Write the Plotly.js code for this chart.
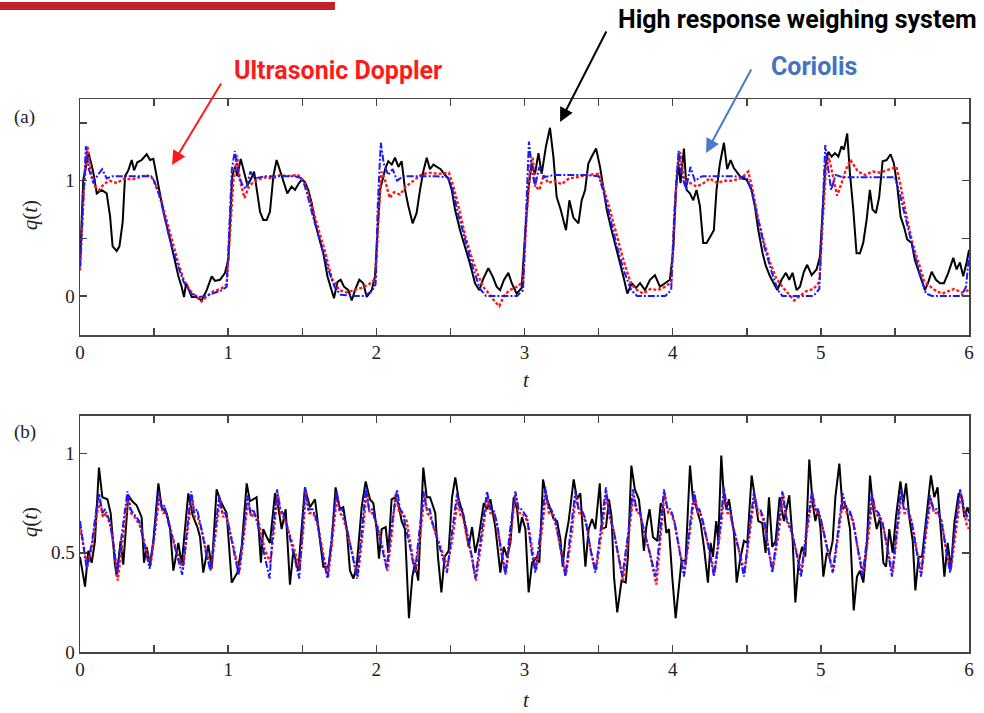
<!DOCTYPE html>
<html><head><meta charset="utf-8">
<script src="https://cdn.plot.ly/plotly-3.0.1.min.js"></script>
<style>html,body{margin:0;padding:0;background:#fff}#plot{width:984px;height:713px}</style>
</head><body><div id="plot"></div>
<script>
// ---------- Panel (a): q(t) ----------
const tBlackA=[0,.022,.04,.056,.072,.09,.113,.146,.18,.203,.22,.248,.266,.288,.304,.326,.349,.365,.387,.416,.45,.473,.495,.518,.54,.563,.597,.63,.664,.686,.702,.716,.731,.754,.787,.821,.855,.889,.911,.945,.979,1.002,1.013,1.028,1.046,1.062,1.085,1.107,1.13,1.152,1.175,1.197,1.215,1.237,1.26,1.282,1.305,1.327,1.35,1.372,1.399,1.428,1.451,1.473,1.496,1.518,1.541,1.563,1.586,1.608,1.642,1.67,1.692,1.714,1.737,1.759,1.782,1.811,1.834,1.856,1.885,1.912,1.935,1.969,1.991,2.007,2.025,2.059,2.081,2.104,2.126,2.149,2.171,2.194,2.216,2.245,2.272,2.295,2.317,2.34,2.362,2.385,2.407,2.434,2.464,2.486,2.509,2.531,2.565,2.599,2.632,2.666,2.695,2.722,2.756,2.785,2.812,2.835,2.862,2.891,2.914,2.947,2.981,3.003,3.026,3.048,3.071,3.094,3.116,3.145,3.172,3.195,3.217,3.244,3.28,3.303,3.33,3.364,3.386,3.409,3.431,3.454,3.483,3.51,3.532,3.555,3.582,3.611,3.64,3.667,3.694,3.724,3.753,3.78,3.813,3.847,3.88,3.914,3.948,3.981,4.004,4.022,4.038,4.053,4.076,4.094,4.116,4.139,4.161,4.184,4.206,4.229,4.256,4.278,4.296,4.319,4.346,4.368,4.391,4.413,4.436,4.465,4.499,4.533,4.555,4.578,4.607,4.629,4.657,4.684,4.706,4.735,4.764,4.787,4.809,4.836,4.859,4.886,4.908,4.938,4.971,4.994,5.012,5.03,5.05,5.073,5.095,5.118,5.14,5.156,5.178,5.196,5.219,5.241,5.264,5.286,5.309,5.331,5.349,5.372,5.394,5.417,5.444,5.471,5.493,5.516,5.538,5.561,5.583,5.613,5.635,5.669,5.703,5.725,5.748,5.777,5.804,5.831,5.86,5.894,5.916,5.939,5.961,5.984,6.0];
const qBlackA=[.28,1.01,1.12,1.25,1.17,1.07,.89,.92,.89,.69,.43,.39,.43,.64,1.04,1.09,1.18,1.09,1.16,1.18,1.23,1.18,1.19,1.04,.87,.73,.55,.35,.17,.08,-.01,.11,.06,-.01,-.01,-.04,.05,.17,.13,.14,.20,.32,.64,1.04,1.12,1.04,1.19,1.07,.96,1.01,1.08,.89,.73,.66,.66,.73,1.04,1.18,1.09,.99,.89,.95,.92,.97,1.01,.99,.92,.81,.64,.53,.37,.17,.08,-.02,.12,.14,.08,.05,-.04,.05,.14,.11,-.01,.05,.17,.57,.92,1.10,1.17,1.14,1.20,1.12,1.17,.92,.78,.63,.72,.92,1.08,1.20,1.10,1.14,1.12,1.10,1.05,1.02,.92,.75,.57,.43,.28,.11,.05,.15,.24,.17,.08,.05,.14,.20,.11,.02,.07,.52,.92,1.15,1.06,1.24,1.06,1.30,1.46,1.21,.86,.75,.57,.83,.68,.63,.83,.92,1.15,1.21,1.28,1.12,.95,.75,.60,.46,.31,.17,.02,.11,.07,.11,.05,.14,.18,.08,.11,.14,.40,.92,1.15,.98,1.28,.92,.89,.83,.92,.78,.46,.46,.52,.57,.92,1.15,1.33,1.10,1.18,1.11,1.07,1.02,1.01,.92,.78,.57,.37,.26,.17,.10,.05,.14,.20,.14,.20,.05,.08,.21,.27,.18,.23,.34,.75,1.12,1.25,1.21,1.24,1.21,1.30,1.27,1.41,1.07,.75,.37,.37,.46,.66,.92,.75,.72,.86,1.17,1.18,1.23,1.15,.95,.69,.60,.49,.46,.31,.17,.05,.12,.21,.14,.11,.11,.20,.33,.23,.29,.17,.29,.40];

const tBlueA=[0,.02,.04,.06,.09,.12,.15,.18,.22,.3,.4,.48,.5,.53,.56,.6,.65,.7,.75,.8,.85,.9,.96,.99,1.01,1.025,1.045,1.07,1.1,1.12,1.15,1.18,1.25,1.35,1.45,1.5,1.53,1.57,1.62,1.67,1.72,1.76,1.85,1.92,1.97,1.995,2.01,2.03,2.05,2.08,2.11,2.14,2.18,2.3,2.4,2.48,2.51,2.55,2.6,2.65,2.7,2.74,2.85,2.95,2.99,3.01,3.03,3.05,3.07,3.1,3.13,3.2,3.3,3.4,3.5,3.53,3.57,3.62,3.67,3.72,3.76,3.85,3.95,3.99,4.01,4.04,4.06,4.09,4.12,4.15,4.2,4.3,4.4,4.5,4.53,4.57,4.62,4.67,4.71,4.74,4.85,4.95,4.99,5.01,5.03,5.05,5.07,5.1,5.15,5.3,5.4,5.5,5.53,5.57,5.62,5.67,5.71,5.75,5.85,5.95,5.98,6.0];
const qBlueA=[.25,.8,1.30,1.10,.98,1.05,1.10,1.02,1.04,1.04,1.04,1.04,1.0,.90,.75,.52,.30,.12,.02,-.01,0,.02,.05,.08,.6,1.1,1.26,1.05,.95,.93,1.08,1.02,1.04,1.04,1.04,1.02,.90,.70,.48,.25,.07,.01,0,0,.04,.10,.8,1.33,1.15,1.05,1.10,1.0,1.04,1.04,1.04,1.03,.95,.72,.48,.25,.06,0,0,0,.05,.7,1.34,1.10,.95,1.12,1.03,1.05,1.05,1.05,1.04,.92,.72,.45,.22,.05,0,0,0,.05,.7,1.26,1.05,.93,1.12,1.0,1.04,1.04,1.04,1.03,.92,.70,.42,.20,.05,0,0,0,.06,.7,1.31,1.10,.92,1.05,1.03,1.03,1.03,1.03,.90,.68,.42,.18,.02,0,0,0,.08,.35];

const tRedA=[0,.025,.05,.07,.1,.13,.16,.2,.25,.3,.35,.4,.45,.49,.52,.55,.58,.62,.66,.7,.74,.78,.82,.86,.9,.95,.99,1.015,1.035,1.06,1.08,1.11,1.14,1.18,1.25,1.3,1.35,1.4,1.47,1.51,1.55,1.6,1.65,1.7,1.75,1.8,1.85,1.9,1.95,1.995,2.015,2.035,2.06,2.09,2.12,2.16,2.2,2.25,2.3,2.35,2.42,2.49,2.52,2.56,2.6,2.64,2.68,2.72,2.76,2.8,2.83,2.86,2.9,2.95,2.99,3.015,3.04,3.055,3.075,3.1,3.13,3.16,3.2,3.25,3.3,3.35,3.42,3.5,3.53,3.57,3.62,3.67,3.72,3.76,3.8,3.85,3.9,3.95,3.99,4.01,4.03,4.05,4.08,4.12,4.16,4.2,4.25,4.3,4.35,4.4,4.46,4.51,4.54,4.58,4.62,4.66,4.7,4.74,4.78,4.82,4.86,4.9,4.95,4.99,5.015,5.035,5.055,5.08,5.11,5.14,5.17,5.2,5.25,5.3,5.35,5.4,5.46,5.51,5.54,5.58,5.62,5.66,5.7,5.74,5.78,5.82,5.86,5.9,5.95,6.0];
const qRedA=[.22,.9,1.30,1.10,.95,.92,.97,1.0,.98,1.02,1.01,1.03,1.05,1.02,.93,.82,.68,.48,.30,.14,.05,0,-.05,0,.04,.06,.1,.6,1.0,1.22,1.0,.85,.95,1.0,1.03,1.02,1.05,1.04,1.05,1.0,.85,.62,.40,.15,.05,.03,.05,.07,.10,.15,.7,1.08,1.0,.85,.90,.88,.95,1.0,1.05,1.07,1.06,1.07,.95,.75,.52,.35,.2,.08,.02,-.05,-.09,0,.05,.08,.12,.7,1.15,1.2,.95,.92,1.05,.98,1.0,.97,1.02,1.03,1.05,1.06,.95,.78,.55,.30,.10,.05,.02,.06,.05,.08,.12,.6,1.1,1.25,1.0,.98,.95,.97,1.02,.98,1.0,1.0,1.02,1.08,.92,.65,.45,.28,.15,.08,.02,-.04,0,.04,.06,.12,.7,1.1,1.20,1.05,.87,.98,1.1,1.18,1.08,1.05,1.08,1.07,1.10,1.12,.95,.68,.45,.28,.12,.08,.04,.02,.04,.06,.03,.05];

// ---------- Panel (b): q(t) ----------
const tBlackB=[0,.034,.056,.079,.101,.128,.151,.185,.207,.236,.248,.274,.292,.326,.353,.382,.416,.432,.45,.473,.495,.529,.551,.585,.607,.63,.664,.686,.731,.76,.792,.81,.832,.866,.889,.922,.949,.99,1.024,1.062,1.091,1.125,1.147,1.192,1.221,1.237,1.26,1.282,1.316,1.338,1.361,1.388,1.417,1.44,1.473,1.518,1.552,1.586,1.62,1.642,1.676,1.698,1.725,1.755,1.777,1.8,1.822,1.845,1.867,1.901,1.928,1.957,1.98,2.002,2.018,2.036,2.063,2.081,2.103,2.126,2.148,2.171,2.193,2.22,2.243,2.261,2.283,2.317,2.34,2.362,2.376,2.398,2.416,2.439,2.461,2.488,2.511,2.533,2.556,2.583,2.601,2.623,2.646,2.668,2.691,2.725,2.747,2.77,2.803,2.837,2.86,2.882,2.905,2.927,2.95,2.965,2.983,3.006,3.028,3.051,3.085,3.1,3.125,3.152,3.175,3.197,3.22,3.242,3.258,3.276,3.298,3.332,3.355,3.377,3.393,3.411,3.433,3.456,3.478,3.508,3.523,3.55,3.57,3.588,3.604,3.626,3.655,3.683,3.698,3.721,3.745,3.772,3.79,3.806,3.822,3.844,3.867,3.896,3.919,3.941,3.957,3.975,3.997,4.02,4.042,4.06,4.087,4.117,4.137,4.159,4.189,4.211,4.238,4.256,4.272,4.294,4.308,4.328,4.346,4.362,4.38,4.396,4.414,4.432,4.454,4.481,4.504,4.533,4.555,4.578,4.605,4.627,4.65,4.672,4.695,4.722,4.751,4.787,4.81,4.828,4.85,4.873,4.895,4.922,4.945,4.963,4.981,4.997,5.017,5.04,5.057,5.08,5.098,5.125,5.147,5.17,5.197,5.222,5.244,5.264,5.287,5.312,5.332,5.354,5.377,5.4,5.422,5.44,5.462,5.485,5.507,5.537,5.557,5.575,5.597,5.62,5.638,5.66,5.683,5.71,5.743,5.766,5.788,5.811,5.834,5.856,5.878,5.901,5.93,5.953,5.968,5.99,6.0];
const qBlackB=[.48,.33,.51,.45,.56,.93,.78,.77,.70,.44,.38,.56,.44,.79,.76,.74,.68,.45,.53,.44,.56,.85,.73,.70,.63,.41,.55,.44,.80,.69,.63,.58,.40,.54,.42,.82,.76,.70,.35,.40,.53,.85,.76,.78,.45,.62,.58,.55,.80,.73,.62,.72,.34,.51,.41,.83,.73,.77,.56,.43,.43,.55,.83,.72,.73,.62,.41,.37,.43,.73,.86,.77,.75,.62,.47,.62,.63,.50,.77,.78,.75,.66,.62,.17,.38,.45,.36,.93,.78,.78,.75,.70,.48,.30,.48,.51,.78,.88,.77,.70,.63,.53,.63,.50,.58,.75,.72,.77,.63,.40,.53,.48,.55,.78,.72,.60,.68,.62,.30,.45,.48,.45,.87,.77,.72,.67,.66,.57,.43,.57,.66,.87,.77,.80,.62,.43,.62,.67,.62,.85,.62,.63,.77,.68,.38,.20,.36,.35,.48,.94,.82,.77,.65,.51,.63,.72,.58,.56,.75,.72,.60,.62,.38,.17,.33,.46,.46,.94,.77,.73,.65,.53,.35,.55,.48,.66,.56,.99,.78,.72,.77,.68,.60,.35,.46,.56,.55,.89,.78,.66,.65,.50,.78,.53,.56,.78,.66,.79,.56,.25,.45,.53,.48,.97,.75,.66,.72,.63,.38,.50,.48,.56,.78,.95,.72,.74,.62,.21,.38,.41,.35,.56,.89,.72,.62,.68,.45,.43,.62,.50,.68,.86,.75,.85,.68,.56,.31,.48,.48,.68,.89,.78,.83,.60,.38,.55,.42,.65,.80,.78,.68,.73,.70];

const tBlueB=[0,.02,.045,.08,.11,.13,.15,.17,.2,.225,.25,.28,.32,.34,.36,.4,.44,.47,.5,.53,.555,.57,.6,.65,.69,.72,.75,.77,.79,.82,.85,.88,.91,.94,.96,.98,1.0,1.04,1.07,1.1,1.13,1.15,1.17,1.2,1.24,1.28,1.3,1.33,1.35,1.37,1.39,1.44,1.48,1.5,1.52,1.54,1.57,1.6,1.64,1.67,1.7,1.73,1.75,1.77,1.8,1.84,1.87,1.9,1.93,1.95,1.97,2.0,2.04,2.07,2.1,2.14,2.16,2.18,2.2,2.23,2.26,2.29,2.32,2.34,2.36,2.38,2.43,2.477,2.51,2.545,2.565,2.58,2.6,2.64,2.668,2.71,2.747,2.77,2.79,2.815,2.84,2.871,2.9,2.938,2.96,2.98,3.017,3.045,3.073,3.11,3.141,3.16,3.18,3.208,3.245,3.276,3.31,3.343,3.365,3.385,3.411,3.445,3.478,3.515,3.55,3.57,3.6,3.63,3.66,3.7,3.732,3.755,3.775,3.795,3.84,3.885,3.915,3.941,3.965,3.985,4.009,4.045,4.076,4.11,4.144,4.165,4.18,4.2,4.245,4.279,4.315,4.346,4.365,4.385,4.402,4.445,4.481,4.515,4.549,4.57,4.59,4.616,4.645,4.672,4.71,4.74,4.765,4.8,4.835,4.866,4.9,4.94,4.96,4.98,5.0,5.045,5.08,5.115,5.147,5.17,5.19,5.215,5.25,5.282,5.315,5.345,5.365,5.39,5.417,5.45,5.48,5.51,5.541,5.56,5.585,5.609,5.645,5.676,5.705,5.737,5.76,5.785,5.811,5.845,5.872,5.905,5.94,5.96,5.98,6.0];
const qBlueB=[.66,.55,.42,.55,.72,.80,.70,.72,.66,.55,.40,.58,.81,.72,.70,.66,.52,.42,.58,.81,.72,.74,.64,.50,.39,.60,.81,.70,.72,.62,.50,.41,.60,.79,.70,.70,.65,.50,.39,.58,.79,.70,.72,.64,.50,.37,.60,.82,.72,.70,.66,.50,.37,.60,.83,.72,.72,.66,.48,.37,.58,.81,.72,.72,.63,.48,.37,.60,.83,.72,.72,.65,.52,.42,.62,.82,.72,.70,.62,.52,.40,.60,.81,.72,.72,.65,.52,.40,.60,.80,.72,.72,.65,.50,.37,.60,.81,.72,.72,.65,.52,.39,.60,.81,.72,.72,.68,.52,.40,.62,.83,.73,.72,.67,.52,.38,.60,.81,.72,.72,.67,.52,.40,.62,.83,.70,.62,.50,.38,.60,.82,.72,.72,.65,.52,.38,.60,.82,.72,.72,.67,.52,.38,.60,.81,.72,.72,.67,.52,.38,.60,.83,.72,.72,.65,.52,.38,.60,.81,.72,.72,.67,.52,.40,.62,.81,.68,.62,.50,.38,.60,.81,.72,.72,.67,.52,.40,.60,.80,.72,.72,.67,.52,.38,.60,.80,.72,.70,.65,.52,.38,.60,.82,.72,.72,.67,.52,.38,.60,.79,.72,.72,.67,.52,.40,.62,.82,.74,.70,.66];

const tRedB=[0,.02,.05,.085,.115,.135,.155,.175,.205,.23,.255,.29,.325,.345,.37,.41,.445,.475,.505,.535,.56,.58,.61,.655,.695,.725,.755,.775,.795,.825,.855,.885,.915,.945,.965,.985,1.005,1.045,1.075,1.105,1.135,1.155,1.175,1.205,1.245,1.285,1.305,1.335,1.355,1.375,1.395,1.445,1.48,1.505,1.525,1.545,1.575,1.605,1.645,1.675,1.705,1.735,1.755,1.775,1.805,1.845,1.875,1.905,1.935,1.955,1.975,2.005,2.045,2.075,2.105,2.13,2.155,2.18,2.205,2.235,2.265,2.295,2.325,2.345,2.365,2.39,2.44,2.48,2.515,2.55,2.57,2.585,2.605,2.645,2.672,2.715,2.75,2.77,2.795,2.82,2.845,2.875,2.905,2.94,2.96,2.985,3.02,3.05,3.078,3.115,3.145,3.165,3.185,3.212,3.25,3.28,3.315,3.347,3.37,3.39,3.415,3.45,3.483,3.52,3.553,3.575,3.605,3.635,3.665,3.705,3.735,3.76,3.78,3.8,3.845,3.89,3.92,3.945,3.97,3.99,4.013,4.05,4.08,4.115,4.148,4.17,4.185,4.205,4.25,4.283,4.32,4.35,4.37,4.39,4.405,4.45,4.485,4.52,4.553,4.575,4.595,4.62,4.65,4.677,4.715,4.745,4.77,4.805,4.84,4.87,4.905,4.944,4.965,4.985,5.005,5.05,5.085,5.12,5.152,5.175,5.195,5.22,5.255,5.287,5.32,5.35,5.37,5.395,5.42,5.455,5.485,5.515,5.545,5.565,5.59,5.613,5.65,5.68,5.71,5.742,5.765,5.79,5.815,5.85,5.876,5.91,5.945,5.965,5.985,6.0];
const qRedB=[.63,.55,.43,.55,.70,.76,.68,.70,.64,.52,.36,.58,.79,.70,.68,.63,.52,.43,.60,.78,.70,.70,.62,.50,.42,.60,.79,.68,.68,.60,.50,.42,.60,.77,.68,.70,.63,.50,.40,.58,.77,.68,.70,.66,.52,.45,.60,.80,.70,.68,.64,.52,.42,.60,.81,.70,.70,.64,.48,.38,.58,.79,.70,.68,.60,.48,.38,.58,.81,.70,.70,.64,.52,.41,.60,.80,.70,.70,.66,.52,.40,.58,.79,.70,.68,.62,.52,.43,.58,.77,.68,.68,.60,.48,.36,.58,.78,.70,.70,.62,.50,.40,.60,.80,.70,.70,.66,.52,.41,.60,.80,.70,.70,.64,.50,.39,.58,.79,.70,.70,.65,.50,.41,.60,.80,.68,.60,.48,.36,.60,.79,.70,.70,.63,.50,.34,.58,.80,.70,.70,.65,.50,.40,.60,.79,.70,.70,.65,.50,.40,.60,.80,.70,.70,.64,.50,.40,.60,.79,.70,.70,.65,.50,.42,.60,.80,.66,.60,.50,.40,.60,.80,.70,.70,.65,.50,.41,.60,.78,.70,.70,.65,.50,.40,.58,.78,.70,.68,.64,.50,.40,.60,.80,.70,.70,.66,.50,.40,.60,.77,.70,.70,.66,.50,.41,.60,.80,.72,.64,.62];

// ---------- Ticks & labels ----------
const xTickVals=[0,0.5,1,1.5,2,2.5,3,3.5,4,4.5,5,5.5,6];
const xTickText=['0','','1','','2','','3','','4','','5','','6'];
const yTickValsA=[0,0.5,1,1.5];
const yTickTextA=['0','','1',''];
const yTickValsB=[0,0.5,1];
const yTickTextB=['0','0.5','1'];
const seriesNames=['High response weighing system','Ultrasonic Doppler','Coriolis'];

const serif='"Liberation Serif","Times New Roman",serif';
const blk={color:'#000000',width:2};
const red={color:'#ff1a1a',width:2.4,dash:'3px,2px'};
const blu={color:'#1a1aff',width:2,dash:'7px,2px,2px,2px'};

const traces=[
 {x:tBlackA,y:qBlackA,xaxis:'x2',yaxis:'y2',mode:'lines',line:blk,name:seriesNames[0]},
 {x:tRedA,y:qRedA,xaxis:'x2',yaxis:'y2',mode:'lines',line:red,name:seriesNames[1]},
 {x:tBlueA,y:qBlueA,xaxis:'x2',yaxis:'y2',mode:'lines',line:blu,name:seriesNames[2]},
 {x:tBlackB,y:qBlackB,xaxis:'x',yaxis:'y',mode:'lines',line:blk,name:seriesNames[0]},
 {x:tRedB,y:qRedB,xaxis:'x',yaxis:'y',mode:'lines',line:red,name:seriesNames[1]},
 {x:tBlueB,y:qBlueB,xaxis:'x',yaxis:'y',mode:'lines',line:blu,name:seriesNames[2]}
];

const axBase={showline:true,linecolor:'#444',linewidth:1.5,mirror:'ticks',ticks:'inside',ticklen:7,
  tickwidth:1.5,tickcolor:'#444',showgrid:false,zeroline:false,
  tickfont:{family:serif,size:19,color:'#222'}};

function lab(x,y,text,font,extra){
  return Object.assign({xref:'paper',yref:'paper',x:x,y:y,xanchor:'center',yanchor:'middle',text:text,showarrow:false,font:font},extra||{});
}
const serifFont={family:serif,size:19,color:'#222'};
const titleFont={family:serif,size:21,color:'#222'};
const calloutFont=c=>({family:'Roboto, sans-serif',size:25,color:c});

const layout={
 width:984,height:713,margin:{l:80,r:15,t:99,b:61},
 paper_bgcolor:'#fff',plot_bgcolor:'#fff',showlegend:false,
 xaxis:Object.assign({},axBase,{domain:[0,1],anchor:'y',range:[0,6],tickvals:xTickVals,ticktext:xTickText}),
 yaxis:Object.assign({},axBase,{domain:[0,0.4268],anchor:'x',range:[0,1.19],tickvals:yTickValsB,ticktext:yTickTextB}),
 xaxis2:Object.assign({},axBase,{domain:[0,1],anchor:'y2',range:[0,6],tickvals:xTickVals,ticktext:xTickText}),
 yaxis2:Object.assign({},axBase,{domain:[0.5732,1],anchor:'x2',range:[-0.34,1.71],tickvals:yTickValsA,ticktext:yTickTextA}),
 shapes:[
  {type:'rect',xref:'paper',yref:'paper',x0:-0.09,x1:0.2868,y0:1.161,y1:1.1754,fillcolor:'#c0222b',line:{width:0}}
 ],
 annotations:[
  lab(-0.062,0.9675,'(a)',serifFont),
  lab(-0.062,0.3978,'(b)',serifFont),
  lab(-0.056,0.790,'<i>q</i>(<i>t</i>)',titleFont,{textangle:-90}),
  lab(-0.056,0.235,'<i>q</i>(<i>t</i>)',titleFont,{textangle:-90}),
  lab(0.5017,0.4919,'<i>t</i>',titleFont),
  lab(0.5017,-0.0868,'<i>t</i>',titleFont),
  lab(0.2902,1.0524,'<b>'+seriesNames[1]+'</b>',calloutFont('#ff1a1a')),
  lab(0.8076,1.1429,'<b>'+seriesNames[0]+'</b>',calloutFont('#000000')),
  lab(0.8256,1.0579,'<b>'+seriesNames[2]+'</b>',calloutFont('#4472c4')),
  {xref:'paper',yref:'paper',x:0.1035,y:0.8807,ax:50,ay:-83,text:'',showarrow:true,arrowhead:2,arrowsize:1.4,arrowwidth:2,arrowcolor:'#ff1a1a'},
  {xref:'paper',yref:'paper',x:0.540,y:0.9584,ax:47,ay:-92,text:'',showarrow:true,arrowhead:2,arrowsize:1.4,arrowwidth:2,arrowcolor:'#000'},
  {xref:'paper',yref:'paper',x:0.7042,y:0.9024,ax:46,ay:-85,text:'',showarrow:true,arrowhead:2,arrowsize:1.4,arrowwidth:2,arrowcolor:'#4a7bc8'}
 ]
};
Plotly.newPlot('plot',traces,layout,{staticPlot:true,displayModeBar:false});
</script></body></html>
